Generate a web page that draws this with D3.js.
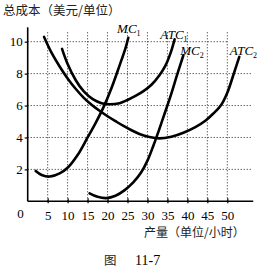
<!DOCTYPE html>
<html><head><meta charset="utf-8">
<script src="https://cdn.jsdelivr.net/npm/d3@7"></script>
<style>html,body{margin:0;padding:0;background:#fff;}</style>
</head><body>
<svg id="c" width="269" height="270"></svg>
<script>
const xTicks = [5,10,15,20,25,30,35,40,45,50];
const yTicks = [2,4,6,8,10];
const mc1 = [[2,1.9],[3.5,1.65],[5.5,1.55],[8,1.75],[10,2.1],[12.5,2.9],[15,4.0],[17,4.9],[19,5.9],[21,7.1],[23,8.5],[24.5,9.6],[25.2,10.25]];
const atc1 = [[8.6,9.55],[10,8.6],[12,7.6],[14,6.9],[16.3,6.4],[18.5,6.15],[20.5,6.08],[23,6.15],[25,6.35],[27,6.6],[29,6.9],[31,7.3],[33,7.9],[34.5,8.5],[35.8,9.3],[36.8,10.15]];
const mc2 = [[15.5,0.5],[17.5,0.28],[19.7,0.2],[22,0.35],[24.3,0.7],[26.5,1.2],[28.4,1.8],[30,2.55],[31.5,3.5],[32.8,4.4],[34.3,5.5],[35.8,6.6],[37.4,7.9],[39,9.15]];
const atc2 = [[4.1,10.3],[6,9.3],[8,8.45],[10,7.7],[12,7.05],[14,6.5],[16,6.05],[18,5.67],[20,5.33],[22,5.02],[24,4.72],[26,4.45],[28,4.22],[30.5,4.03],[33,3.94],[36,4.05],[39,4.3],[42,4.65],[44.5,5.05],[46.5,5.5],[48.5,6.05],[50,6.8],[51.5,7.9],[53,9.05]];
const curveLabels = [
  {name:"MC", sub:"1", x:22.4, y:10.6},
  {name:"ATC", sub:"1", x:33.2, y:10.25},
  {name:"MC", sub:"2", x:38.2, y:9.25},
  {name:"ATC", sub:"2", x:50.6, y:9.25}
];
const yTitle = "总成本（美元/单位）";
const xTitle = "产量（单位/小时）";
const caption = ["图", "11-7"];

const svg = d3.select("#c");
const x = d3.scaleLinear().domain([0,50]).range([27.7,227.3]);
const y = d3.scaleLinear().domain([0,10]).range([201.3,41.7]);

// grid
const g = svg.append("g").attr("stroke","#222").attr("stroke-width",1).attr("stroke-dasharray","1,2");
xTicks.forEach(t=>{
  g.append("line").attr("x1",x(t)).attr("x2",x(t)).attr("y1",y(0)).attr("y2",y(10.7));
});
yTicks.forEach(t=>{
  g.append("line").attr("x1",x(0)).attr("x2",x(t===10?50:56)).attr("y1",y(t)).attr("y2",y(t));
});

// axes
const xAxis = d3.axisBottom(x).tickValues(xTicks).tickSize(3).tickPadding(6);
const yAxis = d3.axisLeft(y).tickValues(yTicks).tickSize(3).tickPadding(2);
const gx = svg.append("g").attr("transform",`translate(0,${y(0)})`).call(xAxis);
const gy = svg.append("g").attr("transform",`translate(${x(0)},0)`).call(yAxis);
[gx,gy].forEach(a=>{
  a.select(".domain").remove();
  a.selectAll("text").attr("font-family","'Liberation Serif', serif").attr("font-size",13).attr("fill","#000");
  a.selectAll("line").attr("stroke","#000").attr("stroke-width",1.2);
});
gx.selectAll(".tick line").attr("y1",-3).attr("y2",2);
svg.append("line").attr("x1",x(0)).attr("x2",x(56.5)).attr("y1",y(0)).attr("y2",y(0)).attr("stroke","#000").attr("stroke-width",1.6);
svg.append("line").attr("x1",x(0)).attr("x2",x(0)).attr("y1",y(0)).attr("y2",y(10.9)).attr("stroke","#000").attr("stroke-width",1.6);
svg.append("text").attr("x",x(0)-4).attr("y",218).attr("text-anchor","end")
  .attr("font-family","'Liberation Serif', serif").attr("font-size",13).text("0");

// curves
const line = d3.line().x(d=>x(d[0])).y(d=>y(d[1])).curve(d3.curveCatmullRom.alpha(0.5));
[mc1,atc1,mc2,atc2].forEach(c=>{
  svg.append("path").attr("d",line(c)).attr("fill","none").attr("stroke","#000").attr("stroke-width",2.6).attr("stroke-linecap","round");
});

// labels
curveLabels.forEach(l=>{
  const t = svg.append("text").attr("x",x(l.x)).attr("y",y(l.y)+1)
    .attr("font-family","'Liberation Serif', serif").attr("font-style","italic").attr("font-size",13);
  t.append("tspan").text(l.name);
  t.append("tspan").attr("font-size",8).attr("font-style","normal").attr("dy",3).text(l.sub);
});

// titles
svg.append("text").attr("x",3).attr("y",15).attr("font-family","'Noto Sans CJK SC', sans-serif").attr("font-size",12.5).attr("fill","#222").text(yTitle);
svg.append("text").attr("x",144).attr("y",237).attr("font-family","'Noto Sans CJK SC', sans-serif").attr("font-size",12).attr("fill","#222").text(xTitle);
svg.append("text").attr("x",104).attr("y",265).attr("font-family","'Noto Sans CJK SC', sans-serif").attr("font-size",12.5).attr("fill","#222").text(caption[0]);
svg.append("text").attr("x",135).attr("y",265).attr("font-family","'Liberation Serif', serif").attr("font-size",14).attr("fill","#000").text(caption[1]);
</script>
</body></html>
